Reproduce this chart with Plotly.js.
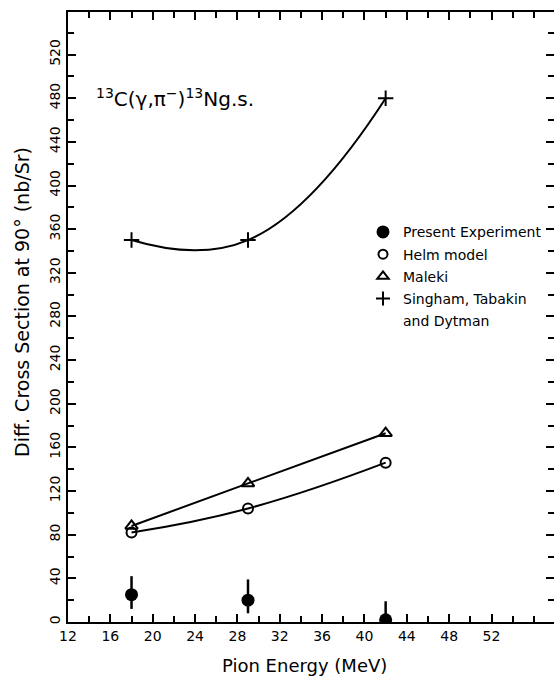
<!DOCTYPE html>
<html>
<head>
<meta charset="utf-8">
<script src="https://cdn.plot.ly/plotly-3.0.1.min.js"></script>
<style>html,body{margin:0;padding:0;background:#fff;}#chart{width:554px;height:677px;}</style>
</head>
<body>
<div id="chart"></div>
<script>
// ---- data ----
var energy = [18, 29, 42];
var expValues = [25, 20, 2];
var expErrPlus = [17, 19, 17];
var expErrMinus = [13, 12, 2];
var helmValues = [82, 104, 146];
var malekiValues = [88, 127, 173];
var singhamValues = [350, 350, 480];

var legendLabels = ['Present Experiment', 'Helm model', 'Maleki', 'Singham, Tabakin', 'and Dytman'];
var xTickVals = [12, 16, 20, 24, 28, 32, 36, 40, 44, 48, 52];
var yTickVals = [0, 40, 80, 120, 160, 200, 240, 280, 320, 360, 400, 440, 480, 520];
var xTitle = 'Pion Energy (MeV)';
var yTitle = 'Diff. Cross Section at 90° (nb/Sr)';
var reactionLabel = '<sup>13</sup>C(γ,π<sup>−</sup>)<sup>13</sup>Ng.s.';

var FONT = 'DejaVu Sans, Liberation Sans, sans-serif';
var traces = [];
function curve(y, sym, size) {
  traces.push({x: energy, y: y, mode: 'lines+markers', showlegend: false,
    line: {shape: 'spline', smoothing: 1.3, color: 'black', width: 2},
    marker: {symbol: sym, size: size, color: 'black', line: {color: 'black', width: 2}}});
}
curve(helmValues, 'circle-open', 10);
curve(malekiValues, 'triangle-up-open', 11);
curve(singhamValues, 'cross-thin-open', 11);
traces.push({x: energy, y: expValues, mode: 'markers', showlegend: false,
  marker: {symbol: 'circle', size: 13, color: 'black'},
  error_y: {type: 'data', symmetric: false, array: expErrPlus, arrayminus: expErrMinus,
    width: 0, thickness: 2.5, color: 'black'}});

// legend-only entries
var legSyms = ['circle', 'circle-open', 'triangle-up-open', 'cross-thin-open', 'circle'];
var legSizes = [11, 9, 10, 10, 1];
var legColors = ['black', 'black', 'black', 'black', 'rgba(0,0,0,0)'];
for (var i = 0; i < legendLabels.length; i++) {
  traces.push({x: [null], y: [null], mode: 'markers', name: legendLabels[i], legendgroup: 'g' + i,
    marker: {symbol: legSyms[i], size: legSizes[i], color: legColors[i], line: {color: legColors[i], width: 2}}});
}

var axisCommon = {showgrid: false, zeroline: false, showline: true, linecolor: 'black', linewidth: 2,
  ticks: 'inside', tickcolor: 'black', tickwidth: 2, ticklen: 8, mirror: 'ticks',
  tickfont: {family: FONT, size: 14, color: 'black'}};

var layout = {
  width: 554, height: 677,
  margin: {l: 68, r: 0, t: 12, b: 55},
  paper_bgcolor: 'white', plot_bgcolor: 'white',
  showlegend: true,
  legend: {x: 0.607, xanchor: 'left', y: 0.665, yanchor: 'top', bgcolor: 'rgba(0,0,0,0)',
    font: {family: FONT, size: 14, color: 'black'}, traceorder: 'grouped', tracegroupgap: 1},
  xaxis: Object.assign({}, axisCommon, {range: [12, 57.9], tickvals: xTickVals,
    minor: {dtick: 2, tick0: 12, ticks: 'inside', ticklen: 6, tickwidth: 2, tickcolor: 'black', showgrid: false}}),
  yaxis: Object.assign({}, axisCommon, {range: [0, 559], tickvals: yTickVals, tickangle: -90,
    minor: {dtick: 20, tick0: 0, ticks: 'inside', ticklen: 6, tickwidth: 2, tickcolor: 'black', showgrid: false}}),
  annotations: [
    {text: reactionLabel, xref: 'paper', yref: 'paper', x: 0.054, y: 0.859, xanchor: 'left', yanchor: 'middle',
      showarrow: false, font: {family: FONT, size: 20, color: 'black'}},
    {text: yTitle, xref: 'paper', yref: 'paper', x: -0.0947, y: 0.5246, textangle: -90, xanchor: 'center', yanchor: 'middle',
      showarrow: false, font: {family: FONT, size: 19, color: 'black'}},
    {text: xTitle, xref: 'paper', yref: 'paper', x: 0.486, y: -0.0705, xanchor: 'center', yanchor: 'middle',
      showarrow: false, font: {family: FONT, size: 18, color: 'black'}}
  ]
};
Plotly.newPlot('chart', traces, layout, {displayModeBar: false, staticPlot: true});
</script>
</body>
</html>
